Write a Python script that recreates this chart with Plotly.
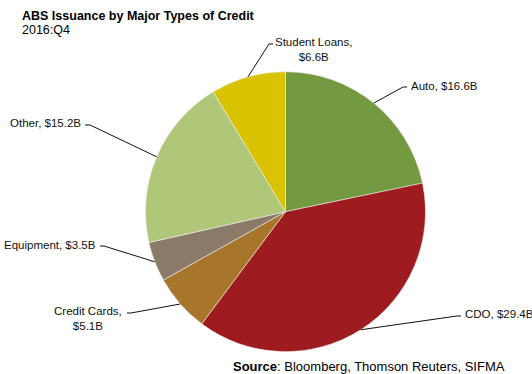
import math
import plotly.graph_objects as go

# ABS issuance by credit type, 2016:Q4 ($ billions)
categories = ["Auto", "CDO", "Credit Cards", "Equipment", "Other", "Student Loans"]
values = [16.6, 29.4, 5.1, 3.5, 15.2, 6.6]
label_texts = ["Auto, $16.6B", "CDO, $29.4B", "Credit Cards,<br>$5.1B",
               "Equipment, $3.5B", "Other, $15.2B", "Student Loans,<br>$6.6B"]
colors = ["#739A41", "#9E1B20", "#A8762A", "#8A7A67", "#B0C779", "#D9C300"]

W, H = 532, 374
CX, CY, R = 285.5, 211.7, 140.0

# Label placement (pixels): elbow point, end of short horizontal tick, text anchor
label_layout = {
    "Auto":          dict(elbow=(403, 87),  tick=(407, 87),  text=(409, 86),  xanchor="left",  align="left"),
    "CDO":           dict(elbow=(457, 316), tick=(461, 316), text=(463, 314), xanchor="left",  align="left"),
    "Credit Cards":  dict(elbow=(131, 313), tick=(127, 313), text=(88, 318),  xanchor="center", align="center"),
    "Equipment":     dict(elbow=(104, 246), tick=(100, 246), text=(98, 245),  xanchor="right", align="right"),
    "Other":         dict(elbow=(90, 125),  tick=(85, 125),  text=(83, 123),  xanchor="right", align="right"),
    "Student Loans": dict(elbow=(269, 44),  tick=(273, 44),  text=(313, 50),  xanchor="center", align="center"),
}


def px(x):
    return x / W


def py(y):
    return 1 - y / H


fig = go.Figure(go.Pie(
    labels=categories,
    values=values,
    sort=False,
    direction="clockwise",
    rotation=0,
    marker=dict(colors=colors, line=dict(color="#EDEDED", width=0.6)),
    textinfo="none",
    hoverinfo="label+value",
    domain=dict(x=[px(CX - R), px(CX + R)], y=[py(CY + R), py(CY - R)]),
    showlegend=False,
))

shapes = []
annotations = []
total = sum(values)
cum = 0.0
for cat, val, txt in zip(categories, values, label_texts):
    mid = (cum + val / 2) / total * 2 * math.pi
    cum += val
    sx = CX + R * math.sin(mid)
    sy = CY - R * math.cos(mid)
    lay = label_layout[cat]
    ex, ey = lay["elbow"]
    tx, ty = lay["tick"]
    for (x0, y0, x1, y1) in [(sx, sy, ex, ey), (ex, ey, tx, ty)]:
        shapes.append(dict(type="line", xref="paper", yref="paper",
                           x0=px(x0), y0=py(y0), x1=px(x1), y1=py(y1),
                           line=dict(color="#111111", width=1)))
    ax, ay = lay["text"]
    annotations.append(dict(
        text=txt, x=px(ax), y=py(ay), xref="paper", yref="paper",
        xanchor=lay["xanchor"], yanchor="middle", align=lay["align"],
        showarrow=False, font=dict(family="Liberation Sans, Arial", size=11.5, color="#111111"),
    ))

annotations += [
    dict(text="<b>ABS Issuance by Major Types of Credit</b>", x=px(20), y=py(16),
         xref="paper", yref="paper", xanchor="left", yanchor="middle", showarrow=False,
         font=dict(family="Liberation Sans, Arial", size=12.5, color="#000000")),
    dict(text="2016:Q4", x=px(20), y=py(30), xref="paper", yref="paper",
         xanchor="left", yanchor="middle", showarrow=False,
         font=dict(family="Liberation Sans, Arial", size=12.5, color="#000000")),
    dict(text="<b>Source</b>: Bloomberg, Thomson Reuters, SIFMA", x=px(231), y=py(366),
         xref="paper", yref="paper", xanchor="left", yanchor="middle", showarrow=False,
         font=dict(family="Liberation Sans, Arial", size=13, color="#000000")),
]

fig.update_layout(
    width=W, height=H,
    margin=dict(l=0, r=0, t=0, b=0),
    paper_bgcolor="white",
    plot_bgcolor="white",
    shapes=shapes,
    annotations=annotations,
)

fig.write_html("out.html")
